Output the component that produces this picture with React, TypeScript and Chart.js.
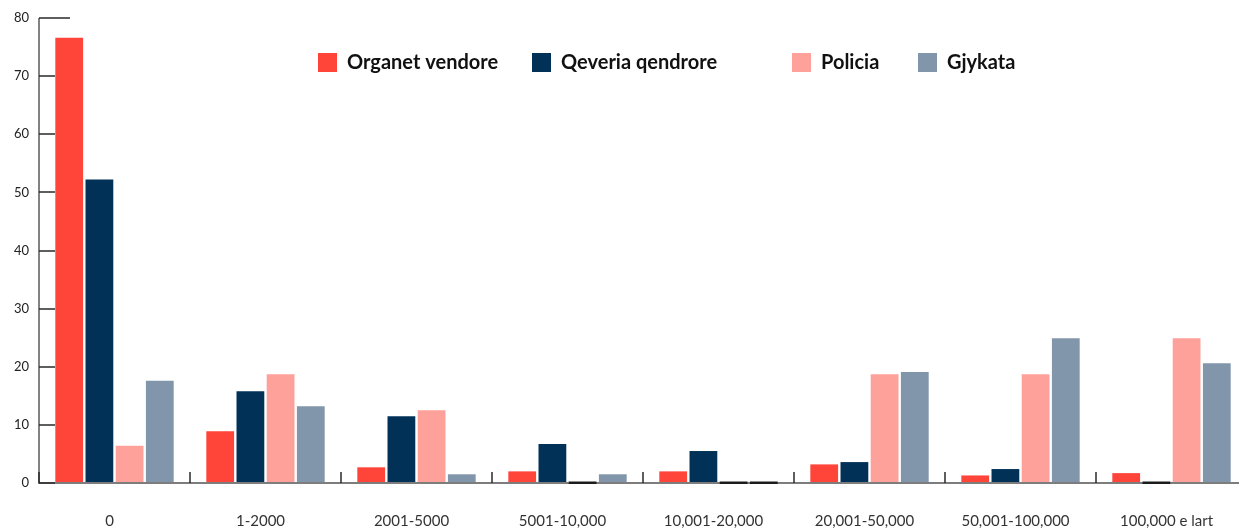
import { useEffect, useRef } from 'react';
import { Chart, registerables } from 'chart.js';

Chart.register(...registerables);

const categories = ['0', '1-2000', '2001-5000', '5001-10,000', '10,001-20,000', '20,001-50,000', '50,001-100,000', '100,000 e lart'];
const seriesLabels = ['Organet vendore', 'Qeveria qendrore', 'Policia', 'Gjykata'];
const organetVendore = [76.6, 8.9, 2.7, 2.0, 2.0, 3.2, 1.3, 1.7];
const qeveriaQendrore = [52.2, 15.8, 11.5, 6.7, 5.5, 3.6, 2.4, 0];
const policia = [6.4, 18.7, 12.5, 0, 0, 18.7, 18.7, 24.9];
const gjykata = [17.6, 13.2, 1.5, 1.5, 0, 19.1, 24.9, 20.6];
const yMin = 0;
const yMax = 80;
const yStep = 10;

const colors = ['#ff443a', '#013157', '#ffa19b', '#8196ab'];
const FONT = 'Lato, "Open Sans", sans-serif';
const LEGEND_X = [318, 532, 792, 918];
const LEGEND_Y = 53;

const decorPlugin = {
  id: 'decor',
  afterDatasetsDraw(chart: any) {
    const ctx = chart.ctx;
    const { left, top, bottom } = chart.chartArea;
    const xs = chart.scales.x;
    const ys = chart.scales.y;
    const W = chart.width;
    ctx.save();
    // x axis line
    ctx.fillStyle = '#7d7d7d';
    ctx.fillRect(left, bottom - 1, W - left, 2);
    // y axis line
    ctx.fillStyle = '#5a5a5a';
    ctx.fillRect(left - 0.75, top, 1.5, bottom - top + 1);
    // y inner ticks
    ctx.fillStyle = '#2a2a2a';
    ys.ticks.forEach((t: any) => {
      const py = ys.getPixelForValue(t.value);
      const len = t.value === yMax ? 31 : 16;
      ctx.fillRect(left, Math.round(py) - 0.75, len, 1.5);
    });
    // category boundary ticks
    const n = categories.length;
    const step = n > 1 ? xs.getPixelForValue(1) - xs.getPixelForValue(0) : xs.width;
    for (let i = 0; i <= n; i++) {
      const px = xs.getPixelForValue(0) - step / 2 + i * step;
      ctx.fillRect(px - 0.75, bottom - 11, 1.5, 11);
    }
    // zero-valued bars
    chart.data.datasets.forEach((ds: any, di: number) => {
      const meta = chart.getDatasetMeta(di);
      meta.data.forEach((bar: any, i: number) => {
        if (ds.data[i] === 0) {
          const p = bar.getProps(['x', 'width'], true);
          ctx.fillStyle = '#1c1c1c';
          ctx.fillRect(p.x - p.width / 2, bottom - 1.5, p.width, 2.5);
        }
      });
    });
    ctx.restore();
  },
  afterDraw(chart: any) {
    const ctx = chart.ctx;
    ctx.save();
    ctx.font = `bold 20px ${FONT}`;
    ctx.textBaseline = 'middle';
    ctx.textAlign = 'left';
    chart.data.datasets.forEach((ds: any, i: number) => {
      const x = LEGEND_X[i];
      ctx.fillStyle = ds.backgroundColor;
      ctx.fillRect(x, LEGEND_Y, 19, 19);
      ctx.fillStyle = '#111111';
      ctx.fillText(ds.label, x + 29, LEGEND_Y + 10);
    });
    ctx.restore();
  },
};

export default function App() {
  const ref = useRef<HTMLCanvasElement | null>(null);
  useEffect(() => {
    document.body.style.margin = '0';
    if (!ref.current) return;
    const series = [organetVendore, qeveriaQendrore, policia, gjykata];
    const chart = new Chart(ref.current, {
      type: 'bar',
      data: {
        labels: categories,
        datasets: series.map((d, i) => ({
          label: seriesLabels[i],
          data: d,
          backgroundColor: colors[i],
          borderWidth: 0,
          categoryPercentage: 0.8,
          barPercentage: 0.92,
        })),
      },
      options: {
        animation: false,
        responsive: false,
        maintainAspectRatio: false,
        devicePixelRatio: 1,
        layout: { padding: { top: 18, right: 3, left: 0, bottom: 0 } },
        plugins: {
          legend: { display: false },
          tooltip: { enabled: false },
        },
        scales: {
          x: {
            grid: { display: false, drawTicks: false },
            border: { display: false },
            ticks: {
              color: '#333333',
              font: { family: FONT, size: 15 },
              padding: 29,
              labelOffset: -5,
              maxRotation: 0,
              autoSkip: false,
            },
            afterFit: (s: any) => { s.height = 46; },
          },
          y: {
            min: yMin,
            max: yMax,
            grid: { display: false, drawTicks: false },
            border: { display: false },
            ticks: {
              stepSize: yStep,
              color: '#222222',
              font: { family: FONT, size: 13 },
              padding: 10,
            },
            afterFit: (s: any) => { s.width = 39; },
          },
        },
      },
      plugins: [decorPlugin],
    });
    return () => chart.destroy();
  }, []);
  return (
    <div style={{ position: 'relative', width: 1239, height: 529, overflow: 'hidden' }}>
      <canvas ref={ref} width={1250} height={529} style={{ width: 1250, height: 529, display: 'block' }} />
    </div>
  );
}
